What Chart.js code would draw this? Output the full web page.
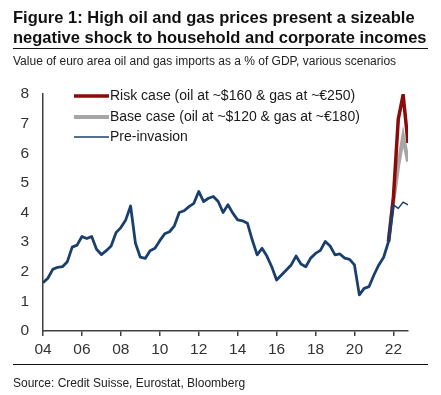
<!DOCTYPE html>
<html>
<head>
<meta charset="utf-8">
<script src="https://cdn.jsdelivr.net/npm/chart.js@4.4.1/dist/chart.umd.min.js"></script>
<style>
  html, body { margin:0; padding:0; background:#fff; }
  body { width:441px; height:395px; position:relative; overflow:hidden; font-family:"Liberation Sans", Arial, sans-serif; }
  #wrap { position:absolute; left:0; top:0; width:441px; height:395px; }
  .t { position:absolute; white-space:nowrap; }
  #title { left:13px; top:7px; font-weight:bold; font-size:16.5px; line-height:20px; color:#111; }
  #rule1 { position:absolute; left:13px; top:48px; width:415px; height:1px; background:#111; }
  #sub { left:13px; top:54px; font-size:12px; line-height:14px; color:#222; }
  #rule2 { position:absolute; left:13px; top:364px; width:415px; height:1px; background:#111; }
  #src { left:13px; top:376px; font-size:12px; line-height:14px; color:#222; }
</style>
</head>
<body>
<div id="wrap"><canvas id="c" width="441" height="395"></canvas></div>
<div class="t" id="title">Figure 1: High oil and gas prices present a sizeable<br>negative shock to household and corporate incomes</div>
<div id="rule1"></div>
<div class="t" id="sub">Value of euro area oil and gas imports as a % of GDP, various scenarios</div>
<div id="rule2"></div>
<div class="t" id="src">Source: Credit Suisse, Eurostat, Bloomberg</div>
<script>
// Quarterly periods (YYQn)
const periods = [
 "04Q1","04Q2","04Q3","04Q4","05Q1","05Q2","05Q3","05Q4","06Q1","06Q2","06Q3","06Q4",
 "07Q1","07Q2","07Q3","07Q4","08Q1","08Q2","08Q3","08Q4","09Q1","09Q2","09Q3","09Q4",
 "10Q1","10Q2","10Q3","10Q4","11Q1","11Q2","11Q3","11Q4","12Q1","12Q2","12Q3","12Q4",
 "13Q1","13Q2","13Q3","13Q4","14Q1","14Q2","14Q3","14Q4","15Q1","15Q2","15Q3","15Q4",
 "16Q1","16Q2","16Q3","16Q4","17Q1","17Q2","17Q3","17Q4","18Q1","18Q2","18Q3","18Q4",
 "19Q1","19Q2","19Q3","19Q4","20Q1","20Q2","20Q3","20Q4","21Q1","21Q2","21Q3","21Q4",
 "22Q1","22Q2","22Q3","22Q4"
];
const preInvasion = [
 1.63,1.78,2.08,2.15, 2.17,2.34,2.83,2.90, 3.19,3.12,3.19,2.76,
 2.58,2.71,2.87,3.32, 3.49,3.75,4.22,2.96, 2.49,2.45,2.71,2.79,
 3.05,3.28,3.35,3.55, 4.00,4.06,4.20,4.31, 4.71,4.37,4.48,4.54,
 4.37,4.00,4.26,3.98, 3.75,3.72,3.64,3.07, 2.57,2.79,2.53,2.17,
 1.72,1.89,2.06,2.23, 2.53,2.26,2.17,2.46, 2.62,2.72,3.02,2.87,
 2.57,2.60,2.46,2.42, 2.23,1.22,1.44,1.50, 1.89,2.23,2.49,3.02,
 4.26,4.14,4.35,4.26
];
const scenarioPeriods = ["21Q4","22Q1","22Q2","22Q3","22Q4"];
const riskCase = [3.02,4.50,7.15,7.97,6.35];
const baseCase = [3.02,4.40,5.60,6.56,5.72];
const xTicks = [2004,2006,2008,2010,2012,2014,2016,2018,2020,2022];
const yTicks = [0,1,2,3,4,5,6,7,8];
const seriesNames = ["Risk case (oil at ~$160 & gas at ~\u20ac250)", "Base case (oil at ~$120 & gas at ~\u20ac180)", "Pre-invasion"];

function toYear(p){ return 2000 + parseInt(p.slice(0,2),10) + (parseInt(p.slice(3),10)-1)/4; }
function pts(labels, vals){ return labels.map((p,i)=>({x:toYear(p), y:vals[i]})); }

const RED = '#8c0a0a', GREY = '#a6a6a6', BLUE = '#1b3f6c';
const FONT = "'Liberation Sans', Arial, sans-serif";

const legendPlugin = {
  id:'customLegend',
  afterDraw(chart){
    const ctx = chart.ctx;
    const rows = [
      {label: seriesNames[0], color: RED, w: 3.5, y: 96},
      {label: seriesNames[1], color: GREY, w: 4, y: 117},
      {label: seriesNames[2], color: BLUE, w: 1.5, y: 137}
    ];
    ctx.save();
    rows.forEach(r=>{
      ctx.beginPath();
      ctx.strokeStyle = r.color; ctx.lineWidth = r.w; ctx.lineCap='butt';
      ctx.moveTo(74, r.y); ctx.lineTo(109, r.y); ctx.stroke();
      ctx.fillStyle = '#1a1a1a';
      ctx.font = '14px ' + FONT;
      ctx.textBaseline = 'middle'; ctx.textAlign = 'left';
      ctx.fillText(r.label, 110, r.y + 0.5);
    });
    ctx.restore();
  }
};

new Chart(document.getElementById('c'), {
  type:'line',
  data:{
    datasets:[
      { label: seriesNames[2], data: pts(periods, preInvasion), borderColor: BLUE, borderWidth: 2.8,
        segment:{ borderWidth: c => c.p0.parsed.x >= 2022 ? 1.5 : 2.8 },
        pointRadius:0, tension:0, order:0, borderJoinStyle:'round' },
      { label: seriesNames[0], data: pts(scenarioPeriods, riskCase), borderColor: RED, borderWidth: 3.5,
        pointRadius:0, tension:0, order:1, borderJoinStyle:'miter' },
      { label: seriesNames[1], data: pts(scenarioPeriods, baseCase), borderColor: GREY, borderWidth: 4,
        pointRadius:0, tension:0, order:2, borderJoinStyle:'miter' }
    ]
  },
  options:{
    responsive:false, animation:false,
    layout:{ padding:{ top:94, right:33, bottom:0, left:0 } },
    plugins:{ legend:{display:false}, tooltip:{enabled:false}, title:{display:false} },
    scales:{
      x:{
        type:'linear', min:2004, max:2022.75,
        afterBuildTicks: a => { a.ticks = xTicks.map(v=>({value:v})); },
        afterFit: a => { a.height = 64; },
        grid:{ drawOnChartArea:false, drawTicks:true, tickLength:5, color:'#404040', lineWidth:1.5 },
        border:{ display:true, color:'#404040', width:1.5 },
        ticks:{ autoSkip:false, maxRotation:0, padding:4, color:'#333', font:{family:FONT, size:15.5},
                callback: v => String(v).slice(2) }
      },
      y:{
        min:0, max:8,
        afterBuildTicks: a => { a.ticks = yTicks.map(v=>({value:v})); },
        afterFit: a => { a.width = 43; },
        grid:{ display:false, drawTicks:false },
        border:{ display:true, color:'#404040', width:1.5 },
        ticks:{ padding:14, color:'#333', font:{family:FONT, size:15.5} }
      }
    }
  },
  plugins:[legendPlugin]
});
</script>
</body>
</html>
